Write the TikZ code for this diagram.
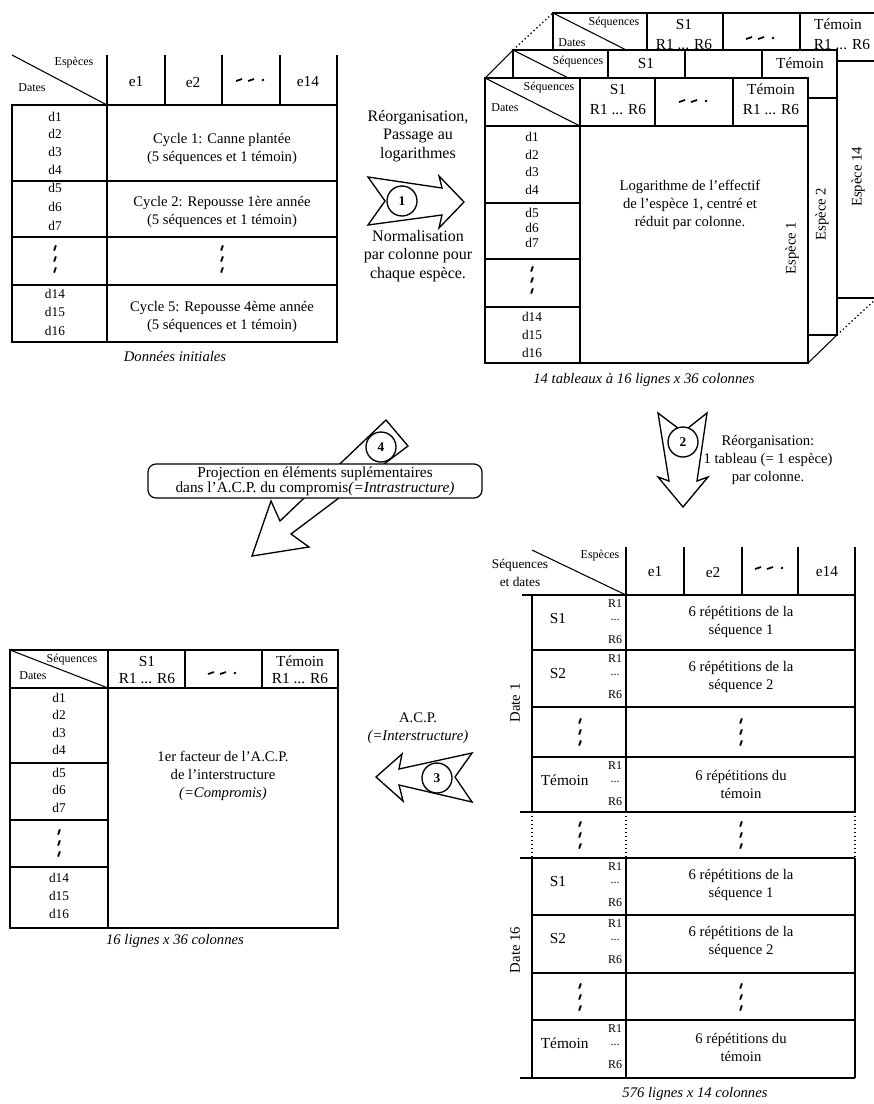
\documentclass[tikz,border=0pt]{standalone}
\usepackage{fontspec}
\setmainfont{Liberation Serif}
\newcommand\vdts[2]{\foreach \k in {-11,0,11}{\draw[line width=1.4pt] ({#1-0.9},{#2+\k+2.6}) -- ({#1+0.9},{#2+\k-2.6});}}
\newcommand\hdts[2]{\foreach \k in {-12,0}{\draw[line width=1.3pt] ({#1+\k-3},{#2+1}) -- ({#1+\k+3},{#2-1});}\draw[line width=1.3pt] ({#1+11},{#2+0.5}) -- ({#1+13},{#2-0.5});}
\newcommand\seqrow[5]{%
  \node[rl] (#2a) at (615,#1+9) {R1};
  \node[rl] (#2b) at (615,#1+25) {...};
  \node[rl] (#2c) at (615,#1+45) {R6};
  \node[hd] (#2s) at (558,#1+23) {#3};
  \node[bt] (#2t) at (741,#1+27) {#4\\#5};}
\begin{document}
\begin{tikzpicture}[x=0.75pt,y=-0.75pt,line width=0.8pt,
  sm/.style={inner sep=0pt,font=\fontsize{9pt}{10pt}\selectfont},
  dl/.style={inner sep=0pt,font=\fontsize{10pt}{11pt}\selectfont},
  hd/.style={inner sep=0pt,font=\fontsize{11.5pt}{13pt}\selectfont},
  rl/.style={inner sep=0pt,font=\fontsize{9pt}{10pt}\selectfont},
  bt/.style={inner sep=0pt,align=center,font=\fontsize{11pt}{13.5pt}\selectfont},
  arrtxt/.style={inner sep=0pt,align=center,font=\fontsize{12pt}{13.9pt}\selectfont},
  capt/.style={inner sep=0pt,font=\fontsize{11pt}{13pt}\selectfont\itshape},
  fat/.style={draw,fill=white,line width=1pt,line join=miter},
  num/.style={circle,draw,fill=white,line width=1pt,inner sep=0pt,minimum size=22.5pt,font=\fontsize{10pt}{11pt}\selectfont\bfseries},
  dotline/.style={dotted,line width=1pt}]
\useasboundingbox (0,0) rectangle (874,1104);
\fill[white] (0,0) rectangle (874,1104);

% ---------------- Table 1 : Donnees initiales
\draw (12,55) -- (107,105);
\foreach \x in {107,165,222,280,337} \draw (\x,55) -- (\x,105);
\draw (12,105) rectangle (337,342);
\draw (107,105) -- (107,342);
\foreach \y in {181,237,285} \draw (12,\y) -- (337,\y);
\node[sm] (t1esp) at (74,63) {Espèces};
\node[sm] (t1dat) at (32,88) {Dates};
\node[hd] (t1e1) at (136,82) {e1};
\node[hd] (t1e2) at (193,82) {e2};
\hdts{251}{80}
\node[hd] (t1e14) at (308,82) {e14};
\foreach \t/\y [count=\i] in {d1/117,d2/134,d3/152,d4/170,d5/188,d6/207,d7/226,d14/294,d15/312,d16/331}
  \node[dl] (t1d\i) at (55,\y) {\t};
\node[bt] (t1c1) at (222,149) {Cycle 1: Canne plantée\\(5 séquences et 1 témoin)};
\node[bt] (t1c2) at (222,212) {Cycle 2: Repousse 1ère année\\(5 séquences et 1 témoin)};
\node[bt] (t1c5) at (222,317) {Cycle 5: Repousse 4ème année\\(5 séquences et 1 témoin)};
\vdts{55}{259}
\vdts{222}{259}
\node[capt] (t1cap) at (175,356) {Données initiales};

% ---------------- Arrow 1
\draw[fat] (368,177) -- (442,188) -- (439,176) -- (464,202) -- (439,228) -- (442,215) -- (368,225) -- (385,201) -- cycle;
\node[num] (n1) at (402,201) {1};
\node[arrtxt] (a1t) at (418,136) {Réorganisation,\\Passage au\\logarithmes};
\node[arrtxt] (a1b) at (418,256) {Normalisation\\par colonne pour\\chaque espèce.};

% ---------------- 3D stack : back table (Espece 14)
\draw[fill=white] (553,13) rectangle (877,298);
\draw (553,61) -- (877,61);
\draw (553,13) -- (648,61);
\foreach \x in {647,723,800} \draw (\x,13) -- (\x,61);
\node[sm] (bsq) at (614,23) {Séquences};
\node[sm] (bdt) at (572,43) {Dates};
\node[hd] (bs1) at (684,24) {S1};
\node[hd] (brr) at (684,45) {R1 ... R6};
\hdts{761}{38}
\node[hd] (btm) at (838,24) {Témoin};
\node[hd] (btr) at (842,45) {R1 ... R6};
% middle table (Espece 2)
\draw[fill=white] (513,50) rectangle (837,335);
\draw (513,98) -- (837,98);
\draw (513,50) -- (608,98);
\foreach \x in {608,685,762} \draw (\x,50) -- (\x,98);
\node[sm] (msq) at (578,62) {Séquences};
\node[hd] (ms1) at (646,63) {S1};
\node[hd] (mtm) at (800,63) {Témoin};
% front table (Espece 1)
\draw[fill=white] (485,78) rectangle (808,363);
\draw (485,126) -- (808,126);
\draw (485,78) -- (580,126);
\foreach \x in {580,655,733} \draw (\x,78) -- (\x,126);
\draw (580,126) -- (580,363);
\foreach \y in {203,259,307} \draw (485,\y) -- (580,\y);
\node[sm] (fsq) at (549,88) {Séquences};
\node[sm] (fdt) at (505,108) {Dates};
\node[hd] (fs1) at (618,89) {S1};
\node[hd] (fr1) at (618,110) {R1 ... R6};
\hdts{694}{101}
\node[hd] (ftm) at (771,89) {Témoin};
\node[hd] (ftr) at (771,110) {R1 ... R6};
\foreach \t/\y [count=\i] in {d1/137,d2/155,d3/172,d4/190,d5/213,d6/228,d7/243,d14/317,d15/335,d16/353}
  \node[dl] (fd\i) at (532,\y) {\t};
\vdts{532}{280}
\node[bt] (fbody) at (690,205) {Logarithme de l'effectif\\de l'espèce 1, centré et\\réduit par colonne.};
\node[bt,rotate=90] (fe1) at (792,248) {Espèce 1};
\node[bt,rotate=90] (fe2) at (822,214) {Espèce 2};
\node[bt,rotate=90] (fe14) at (858,177) {Espèce 14};
\draw (485,78) -- (513,50);
\draw[dotline] (513,50) -- (553,13);
\draw (808,363) -- (837,335);
\draw[dotline] (837,335) -- (877,298);
\node[capt] (fcap) at (644,380) {14 tableaux à 16 lignes x 36 colonnes};

% ---------------- Arrow 2
\draw[fat] (658,413) -- (683,432) -- (707,413) -- (697,481) -- (708,477) -- (683,507) -- (658,477) -- (669,481) -- cycle;
\node[num] (n2) at (683,442) {2};
\node[bt] (a2t) at (768,460) {Réorganisation:\\1 tableau (= 1 espèce)\\par colonne.};

% ---------------- Arrow 4
\draw[fat] (386,420) -- (280,521) -- (271,501) -- (252,556) -- (309,547) -- (291,534) -- (408,446) -- cycle;
\node[num] (n4) at (381,447) {4};
\node[draw,fill=white,rounded corners=6pt,line width=0.9pt,inner sep=0pt,minimum width=250.5pt,minimum height=25.5pt,align=center,font=\fontsize{11.5pt}{11pt}\selectfont] (a4box) at (315,481)
  {Projection en éléments suplémentaires\\dans l'A.C.P. du compromis\textit{(=Intrastructure)}};

% ---------------- Arrow 3
\draw[fat] (472,753) -- (455,777) -- (472,802) -- (399,785) -- (403,801) -- (376,777) -- (402,754) -- (399,769) -- cycle;
\node[num] (n3) at (437,778) {3};
\node[bt] (a3t) at (418,728) {A.C.P.\\\textit{(=Interstructure)}};

% ---------------- Table 4 : compromis
\draw (10,650) rectangle (338,928);
\draw (10,688) -- (338,688);
\draw (10,650) -- (108,688);
\foreach \x in {108,185,262} \draw (\x,650) -- (\x,688);
\draw (108,688) -- (108,928);
\foreach \y in {763,820,867} \draw (10,\y) -- (108,\y);
\node[sm] (csq) at (72,660) {Séquences};
\node[sm] (cdt) at (33,676) {Dates};
\node[hd] (cs1) at (147,661) {S1};
\node[hd] (cr1) at (147,679) {R1 ... R6};
\hdts{223}{673}
\node[hd] (ctm) at (300,661) {Témoin};
\node[hd] (ctr) at (300,679) {R1 ... R6};
\foreach \t/\y [count=\i] in {d1/698,d2/715,d3/733,d4/750,d5/773,d6/790,d7/808,d14/878,d15/896,d16/914}
  \node[dl] (cd\i) at (59,\y) {\t};
\vdts{59}{843}
\node[bt] (cbody) at (223,776) {1er facteur de l'A.C.P.\\de l'interstructure\\\textit{(=Compromis)}};
\node[capt] (ccap) at (175,941) {16 lignes x 36 colonnes};

% ---------------- Table 3 : 576 lignes
\draw (532,550) -- (626,595);
\foreach \x in {626,684,742,798,855} \draw (\x,547) -- (\x,595);
\draw (522,595) -- (855,595);
\node[sm] (gesp) at (600,556) {Espèces};
\node[bt] (gsq) at (520,573) {\fontsize{10pt}{15pt}\selectfont Séquences\\\fontsize{10pt}{15pt}\selectfont et dates};
\node[hd] (ge1) at (655,572) {e1};
\node[hd] (ge2) at (713,572) {e2};
\hdts{770}{568}
\node[hd] (ge14) at (827,572) {e14};
% date 1
\foreach \x in {532,626,855} \draw (\x,595) -- (\x,812);
\foreach \y in {650,707,757} \draw (532,\y) -- (855,\y);
\draw (520,812) -- (855,812);
\seqrow{595}{ga}{S1}{6 répétitions de la}{séquence 1}
\seqrow{650}{gb}{S2}{6 répétitions de la}{séquence 2}
\vdts{580}{732}
\vdts{741}{732}
\seqrow{757}{gc}{\hspace*{10pt}Témoin}{6 répétitions du}{témoin}
\node[bt,rotate=90] (gd1) at (515,703) {Date 1};
% gap
\foreach \x in {532,626,855} \draw[dotline] (\x,812) -- (\x,858);
\vdts{580}{835}
\vdts{741}{835}
\draw (520,858) -- (855,858);
% date 16
\foreach \x in {532,626,855} \draw (\x,858) -- (\x,1078);
\foreach \y in {915,973,1020} \draw (532,\y) -- (855,\y);
\draw (520,1078) -- (855,1078);
\seqrow{858}{gd}{S1}{6 répétitions de la}{séquence 1}
\seqrow{915}{ge}{S2}{6 répétitions de la}{séquence 2}
\vdts{580}{997}
\vdts{741}{997}
\seqrow{1020}{gf}{\hspace*{10pt}Témoin}{6 répétitions du}{témoin}
\node[bt,rotate=90] (gd16) at (515,950) {Date 16};
\node[capt] (gcap) at (695,1094) {576 lignes x 14 colonnes};
\end{tikzpicture}
\end{document}
